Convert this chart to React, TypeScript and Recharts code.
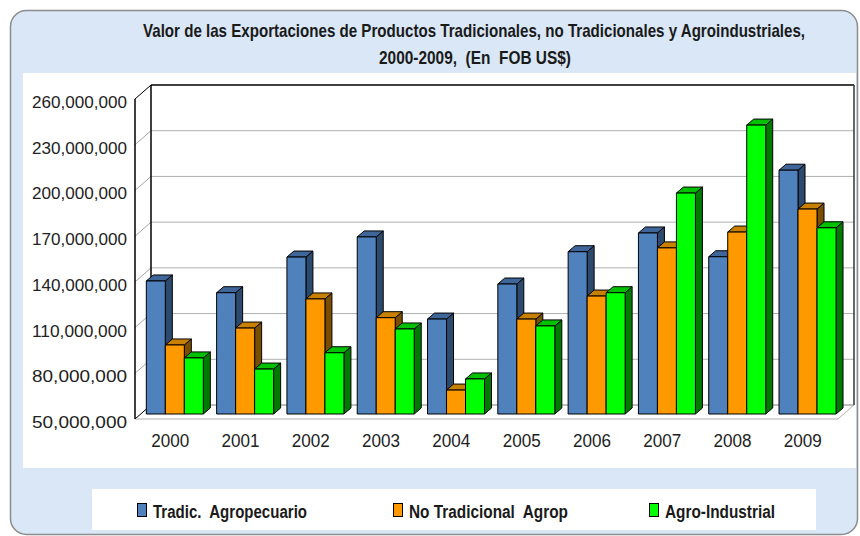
import { Bar, BarChart, CartesianGrid, XAxis, YAxis } from 'recharts';

const years = ['2000', '2001', '2002', '2003', '2004', '2005', '2006', '2007', '2008', '2009'];
const tradicional = [137300000, 129600000, 153000000, 166200000, 112300000, 135300000, 156500000, 168800000, 153200000, 210000000];
const noTradicional = [95300000, 106400000, 125500000, 113200000, 65700000, 112300000, 127400000, 159000000, 169400000, 184500000];
const agroIndustrial = [86800000, 79500000, 90200000, 105800000, 73000000, 107800000, 129600000, 195000000, 239600000, 172200000];
const yTicks = [50000000, 80000000, 110000000, 140000000, 170000000, 200000000, 230000000, 260000000];

const series = [
  { key: 'trad', name: 'Tradic.  Agropecuario', front: '#4F81BD', top: '#3F6699', side: '#2C4A6E', legendX: 137, textW: 154 },
  { key: 'noTrad', name: 'No Tradicional  Agrop', front: '#FF9900', top: '#C88000', side: '#7A4E00', legendX: 393, textW: 159 },
  { key: 'agro', name: 'Agro-Industrial', front: '#00FF00', top: '#00C000', side: '#007A00', legendX: 649, textW: 110 },
];

const data = years.map((year, i) => ({
  year,
  trad: tradicional[i],
  noTrad: noTradicional[i],
  agro: agroIndustrial[i],
}));

const FONT = '"Liberation Sans", Arial, sans-serif';
// wall depth (back wall offset) and bar depth
const WX = 16, WY = 14;
const SX = 5, SY = 5, DX = 7, DY = 6;
// the source image is squeezed horizontally
const SQ = 0.74;

const fmt = (v: number) => v.toLocaleString('en-US');

function YTick(props: any) {
  const { x, y, payload } = props;
  return (
    <text x={x} y={y + 9} textAnchor="end" fontSize={17} fontFamily={FONT} fill="#222"
      textLength={95} lengthAdjust="spacingAndGlyphs">
      {fmt(payload.value)}
    </text>
  );
}

function XTick(props: any) {
  const { x, y, payload } = props;
  return (
    <text x={x} y={y + 28} textAnchor="middle" fontSize={18} fontFamily={FONT} fill="#222"
      textLength={38} lengthAdjust="spacingAndGlyphs">
      {payload.value}
    </text>
  );
}

function GridLine(props: any) {
  const { x1, x2, y1, y, height } = props;
  const isTop = Math.abs(y1 - y) < 0.5;
  const isBottom = Math.abs(y1 - (y + height)) < 0.5;
  const dark = isTop || isBottom ? '#000' : '#a6a6a6';
  return (
    <g>
      <line x1={x1} y1={y1} x2={x1 + WX} y2={y1 - WY} stroke={dark} strokeWidth={1} />
      <line x1={x1 + WX} y1={y1 - WY} x2={x2 + WX} y2={y1 - WY} stroke={isTop ? '#000' : isBottom ? '#808080' : '#b0b0b0'} strokeWidth={isTop ? 1.5 : 1} />
      {isBottom && (
        <g>
          <line x1={x1} y1={y1} x2={x2} y2={y1} stroke="#b0b0b0" strokeWidth={1} />
          <line x1={x2} y1={y1} x2={x2 + WX} y2={y1 - WY} stroke="#b0b0b0" strokeWidth={1} />
        </g>
      )}
      {isTop && (
        <g>
          <line x1={x1} y1={y} x2={x1} y2={y + height} stroke="#000" strokeWidth={1.5} />
          <line x1={x1 + WX} y1={y - WY} x2={x1 + WX} y2={y + height - WY} stroke="#000" strokeWidth={1.5} />
          <line x1={x2 + WX} y1={y - WY} x2={x2 + WX} y2={y + height - WY} stroke="#333" strokeWidth={1.5} />
        </g>
      )}
    </g>
  );
}

function makeBox(c: { front: string; top: string; side: string }) {
  return (p: any) => {
    const { x, y, width, height } = p;
    if (width == null || height == null || height <= 0) return <g />;
    const x0 = x + SX, y0 = y - SY, w = width, h = height;
    return (
      <g stroke="#000" strokeWidth={1} strokeLinejoin="round">
        <polygon points={`${x0 + w},${y0} ${x0 + w + DX},${y0 - DY} ${x0 + w + DX},${y0 + h - DY} ${x0 + w},${y0 + h}`} fill={c.side} />
        <polygon points={`${x0},${y0} ${x0 + DX},${y0 - DY} ${x0 + w + DX},${y0 - DY} ${x0 + w},${y0}`} fill={c.top} />
        <rect x={x0} y={y0} width={w} height={h} fill={c.front} />
      </g>
    );
  };
}

function Backdrop() {
  return (
    <svg width={860} height={536} style={{ position: 'absolute', left: 0, top: 0 }}>
      <rect x={10.5} y={10.5} width={847} height={524} rx={16} fill="#d9e7f7" stroke="#8c8c8c" strokeWidth={1.5} />
      <rect x={23} y={73} width={833} height={395} fill="#fff" />
      <rect x={92} y={489} width={724} height={41} fill="#fff" />
      <g transform={`translate(474,37) scale(${SQ},1)`}>
        <text x={0} y={0} textAnchor="middle" fontSize={18} fontWeight="bold" fontFamily={FONT} fill="#1a1a1a"
          textLength={662 / SQ} lengthAdjust="spacingAndGlyphs">
          Valor de las Exportaciones de Productos Tradicionales, no Tradicionales y Agroindustriales,
        </text>
      </g>
      <text x={475} y={64} textAnchor="middle" fontSize={18} fontWeight="bold" fontFamily={FONT} fill="#1a1a1a"
        textLength={192} lengthAdjust="spacingAndGlyphs" style={{ whiteSpace: 'pre' }}>
        2000-2009,  (En  FOB US$)
      </text>
      {series.map((s) => (
        <g key={s.key}>
          <rect x={s.legendX + 0.5} y={503.5} width={9} height={13} fill={s.front} stroke="#000" strokeWidth={1} />
          <text x={s.legendX + 16} y={518} fontSize={18} fontWeight="bold" fontFamily={FONT} fill="#1a1a1a"
            textLength={s.textW} lengthAdjust="spacingAndGlyphs" style={{ whiteSpace: 'pre' }}>
            {s.name}
          </text>
        </g>
      ))}
    </svg>
  );
}

export default function App() {
  return (
    <div style={{ position: 'absolute', left: 0, top: 0, width: 860, height: 536, background: '#fff' }}>
      <Backdrop />
      <div style={{ position: 'absolute', left: 0, top: 0 }}>
        <BarChart width={860} height={536} data={data}
          margin={{ top: 99, right: 22, bottom: 77, left: 35 }}
          barCategoryGap="9%" barGap={0}>
          <CartesianGrid vertical={false} horizontal={GridLine as any} />
          <XAxis dataKey="year" height={40} axisLine={false} tickLine={false} tickSize={0} tickMargin={0} tick={XTick} interval={0} />
          <YAxis width={100} domain={[50000000, 260000000]} ticks={yTicks} axisLine={false} tickLine={false}
            tickSize={0} tickMargin={8} tick={YTick} interval={0} allowDataOverflow />
          {series.map((s) => (
            <Bar key={s.key} dataKey={s.key} name={s.name} isAnimationActive={false} shape={makeBox(s)} />
          ))}
        </BarChart>
      </div>
    </div>
  );
}
